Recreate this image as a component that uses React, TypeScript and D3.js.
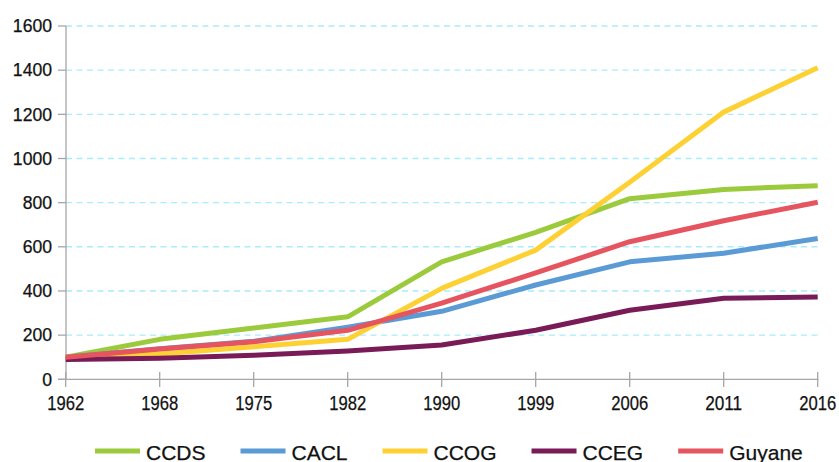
import React from "react";
import * as d3 from "d3";

const years = ["1962", "1968", "1975", "1982", "1990", "1999", "2006", "2011", "2016"];
const ccds = [100, 181, 232, 283, 532, 665, 818, 860, 877];
const cacl = [100, 138, 172, 236, 308, 427, 532, 571, 638];
const ccog = [100, 115, 147, 181, 412, 585, 892, 1210, 1411];
const cceg = [90, 95, 109, 128, 155, 222, 313, 367, 373];
const guyane = [100, 137, 170, 222, 345, 482, 623, 718, 802];
const seriesNames = ["CCDS", "CACL", "CCOG", "CCEG", "Guyane"];
const seriesColors = ["#9BCB3C", "#5B9BD5", "#FDD133", "#791B57", "#E5545F"];
const yTicks = [0, 200, 400, 600, 800, 1000, 1200, 1400, 1600];

const W = 839;
const H = 462;
const FONT = "'Liberation Sans', Arial, sans-serif";

function measure(text: string, font: string): number {
  const c = document.createElement("canvas");
  const ctx = c.getContext("2d");
  if (!ctx) return text.length * 12;
  ctx.font = font;
  return ctx.measureText(text).width;
}

export default function App() {
  const values = [ccds, cacl, ccog, cceg, guyane];
  const x = d3.scalePoint<string>().domain(years).range([65.7, 817.7]);
  const y = d3.scaleLinear().domain([0, 1600]).range([379.3, 26]);
  const line = d3
    .line<number>()
    .x((_, i) => x(years[i]) as number)
    .y((d) => y(d));

  const axisColor = "#a6a6a6";
  const textColor = "#111";
  const x0 = 66;

  // legend layout
  const legendFont = `21px ${FONT}`;
  const swatchW = 45;
  let cursor = 95;
  const legendItems = seriesNames.map((name, i) => {
    const tw = measure(name, "21px 'Liberation Sans'");
    const item = { name, color: seriesColors[i], x: cursor, tw };
    cursor += swatchW + 6 + tw + 35;
    return item;
  });

  return (
    <svg width={W} height={H} style={{ position: "absolute", left: 0, top: 0, background: "#fff" }}>
      {/* gridlines */}
      {yTicks.filter((t) => t > 0).map((t) => (
        <line
          key={"g" + t}
          x1={x0}
          x2={818}
          y1={y(t)}
          y2={y(t)}
          stroke="#a9ecfb"
          strokeWidth={1.4}
          strokeDasharray="6,4.5"
        />
      ))}
      {/* y axis */}
      <line x1={x0} x2={x0} y1={y(1600)} y2={y(0)} stroke={axisColor} strokeWidth={1.3} />
      {yTicks.map((t) => (
        <g key={"yt" + t}>
          <line x1={58} x2={x0} y1={y(t)} y2={y(t)} stroke={axisColor} strokeWidth={1.3} />
          <text
            x={52}
            y={y(t) + 6.3}
            textAnchor="end"
            fontFamily={FONT}
            fontSize={17.6}
            fill={textColor}
            stroke={textColor}
            strokeWidth={0.25}
          >
            {t}
          </text>
        </g>
      ))}
      {/* x axis */}
      <line x1={58} x2={818.5} y1={y(0)} y2={y(0)} stroke={axisColor} strokeWidth={1.3} />
      {years.map((yr) => {
        const px = x(yr) as number;
        return (
          <g key={"xt" + yr}>
            <line x1={px} x2={px} y1={372} y2={387} stroke={axisColor} strokeWidth={1.3} />
            <text
              x={px}
              y={410}
              textAnchor="middle"
              fontFamily={FONT}
              fontSize={19.5}
              textLength={37}
              lengthAdjust="spacingAndGlyphs"
              fill={textColor}
              stroke={textColor}
              strokeWidth={0.25}
            >
              {yr}
            </text>
          </g>
        );
      })}
      {/* lines */}
      {values.map((vals, i) => (
        <path
          key={"s" + i}
          d={line(vals) || ""}
          fill="none"
          stroke={seriesColors[i]}
          strokeWidth={5}
          strokeLinejoin="round"
        />
      ))}
      {/* legend */}
      {legendItems.map((it) => (
        <g key={"l" + it.name}>
          <line
            x1={it.x}
            x2={it.x + swatchW}
            y1={451}
            y2={451}
            stroke={it.color}
            strokeWidth={5}
          />
          <text
            x={it.x + swatchW + 6}
            y={459.5}
            style={{ font: legendFont }}
            fill={textColor}
            stroke={textColor}
            strokeWidth={0.25}
          >
            {it.name}
          </text>
        </g>
      ))}
    </svg>
  );
}
